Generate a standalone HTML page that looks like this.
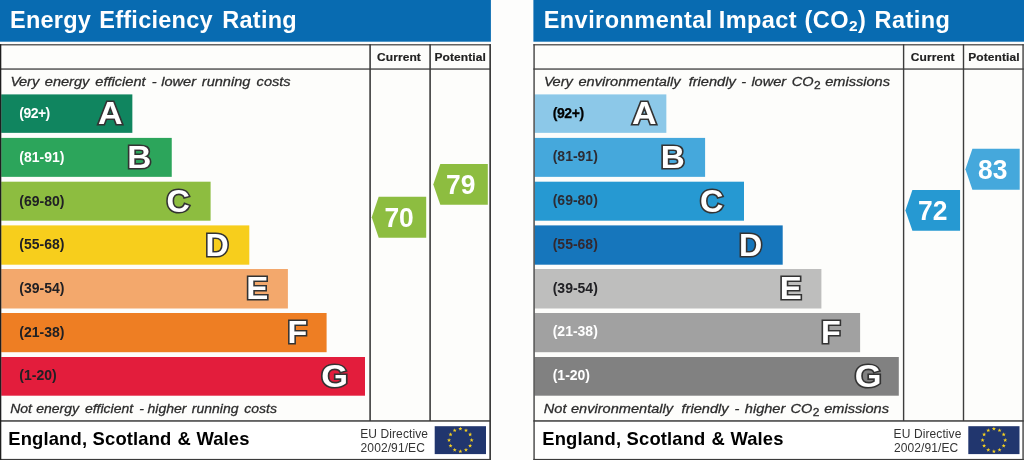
<!DOCTYPE html>
<html lang="en"><head><meta charset="utf-8"><title>Energy Performance Ratings</title>
<style>
html,body{margin:0;padding:0;background:#fdfdfc;}
body{width:1024px;height:460px;overflow:hidden;}
svg{display:block;}
text{font-family:"Liberation Sans",Arial,Helvetica,sans-serif;}
.ttl{font-size:23.5px;font-weight:bold;fill:#fff;letter-spacing:0.25px;}
.hd{font-size:12px;font-weight:bold;fill:#222;stroke:#222;stroke-width:0.2px;letter-spacing:0.08px;}
.it{font-size:14.6px;font-style:italic;fill:#2c2c2c;stroke:#2c2c2c;stroke-width:0.3px;}
.rng{font-size:14px;font-weight:bold;}
.ltr{font-size:32.1px;font-weight:bold;fill:#fff;stroke:#333;stroke-width:3.2px;paint-order:stroke fill;stroke-linejoin:miter;stroke-miterlimit:2.5;}
.ft{font-size:18.4px;font-weight:bold;fill:#000;letter-spacing:0.15px;}
.eu{font-size:12px;fill:#333;letter-spacing:0.1px;}
.num{font-size:26.4px;font-weight:bold;fill:#fff;}
</style></head>
<body>
<svg width="1024" height="460" viewBox="0 0 1024 460">
<rect x="0" y="0" width="1024" height="460" fill="#fdfdfc"/>
<rect x="0.00" y="0.00" width="490.90" height="41.70" fill="#086bb1"/>
<text class="ttl" y="28.1"><tspan x="10.0">Energy</tspan> <tspan x="99.3">Efficiency</tspan> <tspan x="222.3">Rating</tspan></text>
<rect x="0.00" y="44.20" width="491.00" height="376.80" fill="#fdfdfb"/>
<rect x="0.00" y="421.00" width="491.00" height="39.00" fill="#ffffff"/>
<rect x="1.20" y="94.40" width="131.15" height="38.45" fill="#10855f"/>
<text x="19.30" y="117.60" class="rng" fill="#fff" style="letter-spacing:-0.55px">(92+)</text>
<text transform="translate(110.35,123.90) scale(1.06,1)" class="ltr" text-anchor="middle">A</text>
<rect x="1.20" y="137.90" width="170.55" height="38.95" fill="#2ca55b"/>
<text x="19.30" y="161.50" class="rng" fill="#fff">(81-91)</text>
<text transform="translate(139.30,167.90) scale(1.039,1)" class="ltr" text-anchor="middle">B</text>
<rect x="1.20" y="181.70" width="209.40" height="39.00" fill="#8dbd40"/>
<text x="19.30" y="205.60" class="rng" fill="#202024">(69-80)</text>
<text transform="translate(178.08,212.30) scale(1.008,1)" class="ltr" text-anchor="middle">C</text>
<rect x="1.20" y="225.40" width="248.10" height="39.30" fill="#f7ce1c"/>
<text x="19.30" y="249.20" class="rng" fill="#202024">(55-68)</text>
<text transform="translate(217.11,256.40) scale(1.003,1)" class="ltr" text-anchor="middle">D</text>
<rect x="1.20" y="269.00" width="286.70" height="39.50" fill="#f3a86c"/>
<text x="19.30" y="293.00" class="rng" fill="#202024">(39-54)</text>
<text transform="translate(257.15,299.30) scale(1.029,1)" class="ltr" text-anchor="middle">E</text>
<rect x="1.20" y="313.00" width="325.40" height="39.20" fill="#ee7e23"/>
<text x="19.30" y="336.60" class="rng" fill="#202024">(21-38)</text>
<text transform="translate(297.28,343.40) scale(1.008,1)" class="ltr" text-anchor="middle">F</text>
<rect x="1.20" y="357.00" width="363.80" height="38.70" fill="#e31d3c"/>
<text x="19.30" y="379.80" class="rng" fill="#202024">(1-20)</text>
<text transform="translate(334.60,386.80) scale(1.073,1)" class="ltr" text-anchor="middle">G</text>
<rect x="0.00" y="44.20" width="491.00" height="1.20" fill="#3c3c3c"/>
<rect x="0.00" y="68.40" width="491.00" height="1.30" fill="#3c3c3c"/>
<rect x="0.00" y="420.20" width="491.00" height="1.50" fill="#3c3c3c"/>
<rect x="0.00" y="458.90" width="491.00" height="1.10" fill="#3c3c3c"/>
<rect x="0.00" y="44.20" width="1.30" height="415.80" fill="#1e1e1e"/>
<rect x="369.30" y="44.20" width="1.60" height="376.80" fill="#3c3c3c"/>
<rect x="429.30" y="44.20" width="1.60" height="376.80" fill="#3c3c3c"/>
<rect x="489.30" y="44.20" width="1.70" height="415.80" fill="#3c3c3c"/>
<text transform="translate(377,61.2) scale(1,0.93)" class="hd">Current</text>
<text transform="translate(434.5,61.2) scale(1,0.93)" class="hd">Potential</text>
<text class="it" transform="translate(0,86) scale(1,0.93)" y="0"><tspan x="10.4">V</tspan><tspan dx="-1.1">ery</tspan> <tspan x="44.8">energy</tspan> <tspan x="95.3">efficient</tspan> <tspan x="151.8">-</tspan> <tspan x="161.2">lower</tspan> <tspan x="201.8">running</tspan> <tspan x="256.6">costs</tspan></text>
<text class="it" transform="translate(0,413) scale(1,0.95)" y="0" style="font-size:14px"><tspan x="10.2">Not</tspan> <tspan x="36.2">energy</tspan> <tspan x="84.9">efficient</tspan> <tspan x="139.3">-</tspan> <tspan x="147.6">higher</tspan> <tspan x="191.8">running</tspan> <tspan x="244.3">costs</tspan></text>
<text class="ft" y="445.3"><tspan x="8.3">England,</tspan> <tspan x="92.6">Scotland</tspan> <tspan x="177.6">&amp;</tspan> <tspan x="196.4">Wales</tspan></text>
<text x="360.20" y="437.8" class="eu">EU Directive</text>
<text x="360.60" y="451.6" class="eu">2002/91/EC</text>
<rect x="434.70" y="426.20" width="51.30" height="27.90" fill="#21366e"/>
<polygon points="460.35,426.70 460.88,428.12 462.39,428.19 461.21,429.13 461.61,430.59 460.35,429.75 459.09,430.59 459.49,429.13 458.31,428.19 459.82,428.12" fill="#f5d020"/>
<polygon points="466.00,428.21 466.53,429.64 468.04,429.70 466.86,430.64 467.26,432.10 466.00,431.26 464.74,432.10 465.14,430.64 463.96,429.70 465.47,429.64" fill="#f5d020"/>
<polygon points="470.14,432.35 470.67,433.77 472.18,433.84 470.99,434.78 471.40,436.24 470.14,435.40 468.87,436.24 469.28,434.78 468.09,433.84 469.61,433.77" fill="#f5d020"/>
<polygon points="471.65,438.00 472.18,439.42 473.69,439.49 472.51,440.43 472.91,441.89 471.65,441.05 470.39,441.89 470.79,440.43 469.61,439.49 471.12,439.42" fill="#f5d020"/>
<polygon points="470.14,443.65 470.67,445.07 472.18,445.14 470.99,446.08 471.40,447.54 470.14,446.70 468.87,447.54 469.28,446.08 468.09,445.14 469.61,445.07" fill="#f5d020"/>
<polygon points="466.00,447.79 466.53,449.21 468.04,449.27 466.86,450.21 467.26,451.68 466.00,450.84 464.74,451.68 465.14,450.21 463.96,449.27 465.47,449.21" fill="#f5d020"/>
<polygon points="460.35,449.30 460.88,450.72 462.39,450.79 461.21,451.73 461.61,453.19 460.35,452.35 459.09,453.19 459.49,451.73 458.31,450.79 459.82,450.72" fill="#f5d020"/>
<polygon points="454.70,447.79 455.23,449.21 456.74,449.27 455.56,450.21 455.96,451.68 454.70,450.84 453.44,451.68 453.84,450.21 452.66,449.27 454.17,449.21" fill="#f5d020"/>
<polygon points="450.56,443.65 451.09,445.07 452.61,445.14 451.42,446.08 451.83,447.54 450.56,446.70 449.30,447.54 449.71,446.08 448.52,445.14 450.03,445.07" fill="#f5d020"/>
<polygon points="449.05,438.00 449.58,439.42 451.09,439.49 449.91,440.43 450.31,441.89 449.05,441.05 447.79,441.89 448.19,440.43 447.01,439.49 448.52,439.42" fill="#f5d020"/>
<polygon points="450.56,432.35 451.09,433.77 452.61,433.84 451.42,434.78 451.83,436.24 450.56,435.40 449.30,436.24 449.71,434.78 448.52,433.84 450.03,433.77" fill="#f5d020"/>
<polygon points="454.70,428.21 455.23,429.64 456.74,429.70 455.56,430.64 455.96,432.10 454.70,431.26 453.44,432.10 453.84,430.64 452.66,429.70 454.17,429.64" fill="#f5d020"/>
<polygon points="371.7,217.3 378.7,196.85000000000002 426.2,196.85000000000002 426.2,237.75 378.7,237.75" fill="#8dbd40"/>
<text transform="translate(399.10,226.85) scale(1,1.05)" class="num" text-anchor="middle">70</text>
<polygon points="433.3,184.4 440.3,163.95000000000002 487.8,163.95000000000002 487.8,204.85 440.3,204.85" fill="#8dbd40"/>
<text transform="translate(460.70,193.95) scale(1,1.05)" class="num" text-anchor="middle">79</text>
<rect x="533.40" y="0.00" width="490.60" height="41.70" fill="#086bb1"/>
<text class="ttl" y="28.1" style="letter-spacing:0.45px"><tspan x="543.7">Environmental</tspan> <tspan x="718.7">Impact</tspan> <tspan x="804.6">(CO</tspan><tspan dy="3" style="font-size:15.5px">2</tspan><tspan dy="-3">)</tspan> <tspan x="874.6">Rating</tspan></text>
<rect x="533.40" y="44.20" width="490.35" height="376.80" fill="#fdfdfb"/>
<rect x="533.40" y="421.00" width="490.35" height="39.00" fill="#ffffff"/>
<rect x="534.65" y="94.40" width="131.70" height="38.45" fill="#8cc8e8"/>
<text x="552.70" y="117.60" class="rng" fill="#000" style="letter-spacing:-0.4px;stroke:#000;stroke-width:0.25px">(92+)</text>
<text transform="translate(644.35,123.90) scale(1.06,1)" class="ltr" text-anchor="middle">A</text>
<rect x="534.65" y="137.90" width="170.45" height="38.95" fill="#45a8dc"/>
<text x="552.70" y="161.20" class="rng" fill="#2c2c34">(81-91)</text>
<text transform="translate(672.90,167.90) scale(1.039,1)" class="ltr" text-anchor="middle">B</text>
<rect x="534.65" y="181.70" width="209.35" height="39.00" fill="#2699d2"/>
<text x="552.70" y="205.30" class="rng" fill="#2c2c34">(69-80)</text>
<text transform="translate(711.68,212.30) scale(1.008,1)" class="ltr" text-anchor="middle">C</text>
<rect x="534.65" y="225.40" width="248.05" height="39.30" fill="#1676bc"/>
<text x="552.70" y="248.90" class="rng" fill="#33282e">(55-68)</text>
<text transform="translate(750.71,256.40) scale(1.003,1)" class="ltr" text-anchor="middle">D</text>
<rect x="534.65" y="269.00" width="286.75" height="39.50" fill="#bebebd"/>
<text x="552.70" y="292.70" class="rng" fill="#202024">(39-54)</text>
<text transform="translate(790.75,299.30) scale(1.029,1)" class="ltr" text-anchor="middle">E</text>
<rect x="534.65" y="313.00" width="325.45" height="39.20" fill="#a1a1a1"/>
<text x="552.70" y="336.30" class="rng" fill="#fff">(21-38)</text>
<text transform="translate(830.88,343.40) scale(1.008,1)" class="ltr" text-anchor="middle">F</text>
<rect x="534.65" y="357.00" width="364.15" height="38.70" fill="#818181"/>
<text x="552.70" y="379.50" class="rng" fill="#fff">(1-20)</text>
<text transform="translate(868.20,386.80) scale(1.073,1)" class="ltr" text-anchor="middle">G</text>
<rect x="533.40" y="44.20" width="490.35" height="1.20" fill="#3c3c3c"/>
<rect x="533.40" y="68.40" width="490.35" height="1.30" fill="#3c3c3c"/>
<rect x="533.40" y="420.20" width="490.35" height="1.50" fill="#3c3c3c"/>
<rect x="533.40" y="458.90" width="490.35" height="1.10" fill="#3c3c3c"/>
<rect x="533.40" y="44.20" width="1.35" height="415.80" fill="#3c3c3c"/>
<rect x="902.90" y="44.20" width="1.40" height="376.80" fill="#3c3c3c"/>
<rect x="962.80" y="44.20" width="1.40" height="376.80" fill="#3c3c3c"/>
<rect x="1022.40" y="44.20" width="1.35" height="415.80" fill="#3c3c3c"/>
<text transform="translate(910.75,61.2) scale(1,0.93)" class="hd">Current</text>
<text transform="translate(968.25,61.2) scale(1,0.93)" class="hd">Potential</text>
<text class="it" transform="translate(0,86) scale(1,0.93)" y="0"><tspan x="544.0">V</tspan><tspan dx="-1.1">ery</tspan> <tspan x="578.5">environmentally</tspan> <tspan x="688.7">friendly</tspan> <tspan x="741.2">-</tspan> <tspan x="751.4">lower</tspan> <tspan x="791.8">CO</tspan><tspan dy="3" dx="0.3" style="font-size:12px;font-style:normal">2</tspan> <tspan dy="-3" x="825.2">emissions</tspan></text>
<text class="it" transform="translate(0,413) scale(1,0.93)" y="0"><tspan x="543.8">Not</tspan> <tspan x="571">environmentally</tspan> <tspan x="681.6">friendly</tspan> <tspan x="734.5">-</tspan> <tspan x="744.8">higher</tspan> <tspan x="790.6">CO</tspan><tspan dy="3" dx="0.3" style="font-size:12px;font-style:normal">2</tspan> <tspan dy="-3" x="824.2">emissions</tspan></text>
<text class="ft" y="445.3"><tspan x="542.3">England,</tspan> <tspan x="626.6">Scotland</tspan> <tspan x="711.6">&amp;</tspan> <tspan x="730.4">Wales</tspan></text>
<text x="893.60" y="437.8" class="eu">EU Directive</text>
<text x="894.00" y="451.6" class="eu">2002/91/EC</text>
<rect x="968.30" y="426.20" width="51.20" height="27.90" fill="#21366e"/>
<polygon points="993.90,426.70 994.43,428.12 995.94,428.19 994.76,429.13 995.16,430.59 993.90,429.75 992.64,430.59 993.04,429.13 991.86,428.19 993.37,428.12" fill="#f5d020"/>
<polygon points="999.55,428.21 1000.08,429.64 1001.59,429.70 1000.41,430.64 1000.81,432.10 999.55,431.26 998.29,432.10 998.69,430.64 997.51,429.70 999.02,429.64" fill="#f5d020"/>
<polygon points="1003.69,432.35 1004.22,433.77 1005.73,433.84 1004.54,434.78 1004.95,436.24 1003.69,435.40 1002.42,436.24 1002.83,434.78 1001.64,433.84 1003.16,433.77" fill="#f5d020"/>
<polygon points="1005.20,438.00 1005.73,439.42 1007.24,439.49 1006.06,440.43 1006.46,441.89 1005.20,441.05 1003.94,441.89 1004.34,440.43 1003.16,439.49 1004.67,439.42" fill="#f5d020"/>
<polygon points="1003.69,443.65 1004.22,445.07 1005.73,445.14 1004.54,446.08 1004.95,447.54 1003.69,446.70 1002.42,447.54 1002.83,446.08 1001.64,445.14 1003.16,445.07" fill="#f5d020"/>
<polygon points="999.55,447.79 1000.08,449.21 1001.59,449.27 1000.41,450.21 1000.81,451.68 999.55,450.84 998.29,451.68 998.69,450.21 997.51,449.27 999.02,449.21" fill="#f5d020"/>
<polygon points="993.90,449.30 994.43,450.72 995.94,450.79 994.76,451.73 995.16,453.19 993.90,452.35 992.64,453.19 993.04,451.73 991.86,450.79 993.37,450.72" fill="#f5d020"/>
<polygon points="988.25,447.79 988.78,449.21 990.29,449.27 989.11,450.21 989.51,451.68 988.25,450.84 986.99,451.68 987.39,450.21 986.21,449.27 987.72,449.21" fill="#f5d020"/>
<polygon points="984.11,443.65 984.64,445.07 986.16,445.14 984.97,446.08 985.38,447.54 984.11,446.70 982.85,447.54 983.26,446.08 982.07,445.14 983.58,445.07" fill="#f5d020"/>
<polygon points="982.60,438.00 983.13,439.42 984.64,439.49 983.46,440.43 983.86,441.89 982.60,441.05 981.34,441.89 981.74,440.43 980.56,439.49 982.07,439.42" fill="#f5d020"/>
<polygon points="984.11,432.35 984.64,433.77 986.16,433.84 984.97,434.78 985.38,436.24 984.11,435.40 982.85,436.24 983.26,434.78 982.07,433.84 983.58,433.77" fill="#f5d020"/>
<polygon points="988.25,428.21 988.78,429.64 990.29,429.70 989.11,430.64 989.51,432.10 988.25,431.26 986.99,432.10 987.39,430.64 986.21,429.70 987.72,429.64" fill="#f5d020"/>
<polygon points="905.4,210.4 912.4,189.95000000000002 960.05,189.95000000000002 960.05,230.85 912.4,230.85" fill="#2699d2"/>
<text transform="translate(932.80,219.95) scale(1,1.05)" class="num" text-anchor="middle">72</text>
<polygon points="965.4,169.3 972.4,148.85000000000002 1019.7,148.85000000000002 1019.7,189.75 972.4,189.75" fill="#45a8dc"/>
<text transform="translate(992.80,178.85) scale(1,1.05)" class="num" text-anchor="middle">83</text>
</svg>
</body></html>
